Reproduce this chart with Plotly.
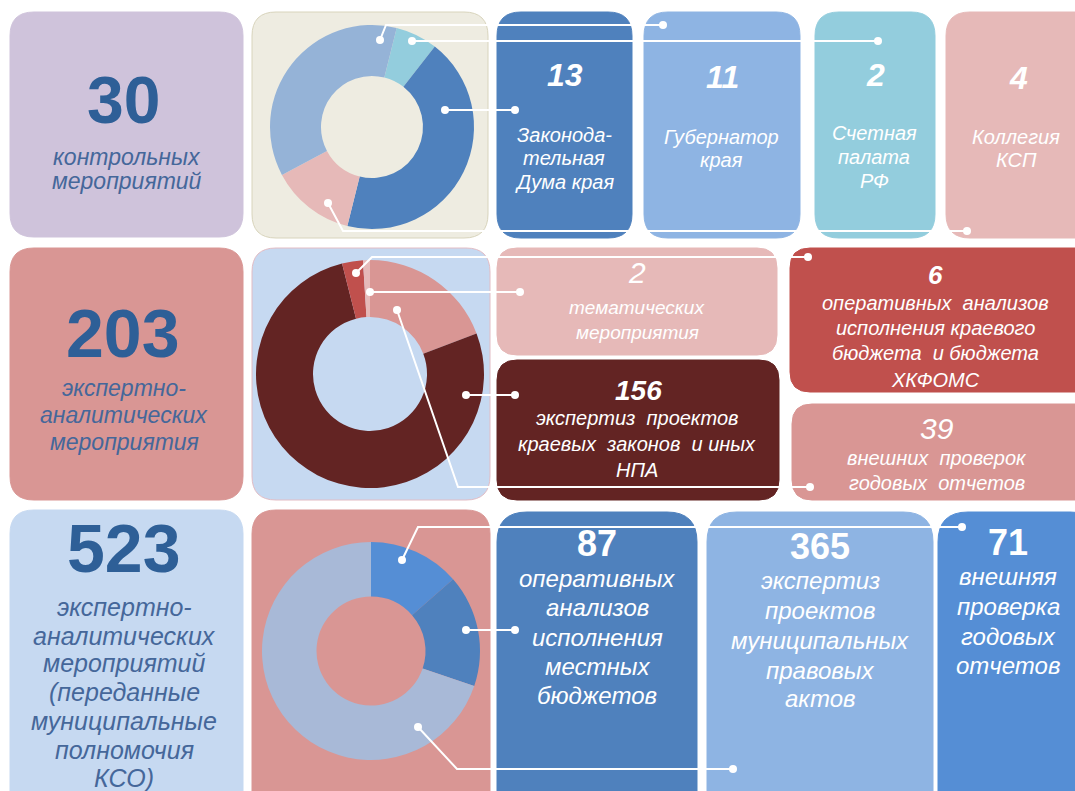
import plotly.graph_objects as go

# ---------------- data ----------------
row1_labels = ["Законодательная Дума края", "Губернатор края", "Счетная палата РФ", "Коллегия КСП"]
row1_values = [13, 11, 2, 4]
row1_total = 30
row1_pie_order = [2, 0, 3, 1]          # clockwise order of slices in the donut
row1_pie_colors = ["#4f81bd", "#95b3d7", "#93cddd", "#e6b9b8"]

row2_labels = ["тематических мероприятия", "экспертиз проектов краевых законов и иных НПА",
               "оперативных анализов исполнения краевого бюджета и бюджета ХКФОМС",
               "внешних проверок годовых отчетов"]
row2_values = [2, 156, 6, 39]
row2_total = 203
row2_pie_order = [3, 1, 2, 0]
row2_pie_colors = ["#e6b9b8", "#632423", "#c0504d", "#d99694"]

row3_labels = ["оперативных анализов исполнения местных бюджетов",
               "экспертиз проектов муниципальных правовых актов",
               "внешняя проверка годовых отчетов"]
row3_values = [87, 365, 71]
row3_total = 523
row3_pie_order = [2, 0, 1]
row3_pie_colors = ["#4f81bd", "#a8b9d7", "#558ed5"]

W, H = 1075, 791
BLUE_TXT = "#2e5f97"
SUB_TXT = "#45679a"
SANS = "Liberation Sans, Arial, sans-serif"
NARROW = "Liberation Sans Narrow, Arial Narrow, Liberation Sans, sans-serif"

fig = go.Figure()

# hidden pixel axes covering the whole canvas
fig.add_trace(go.Scatter(x=[0, W], y=[0, H], mode="markers", marker=dict(opacity=0),
                         hoverinfo="skip", showlegend=False))


def rrect(x0, y0, x1, y1, r=24):
    return (f"M {x0+r},{y0} L {x1-r},{y0} Q {x1},{y0} {x1},{y0+r} L {x1},{y1-r} "
            f"Q {x1},{y1} {x1-r},{y1} L {x0+r},{y1} Q {x0},{y1} {x0},{y1-r} "
            f"L {x0},{y0+r} Q {x0},{y0} {x0+r},{y0} Z")


shapes = []


def box(x0, y0, x1, y1, color, border=None, r=24):
    shapes.append(dict(type="path", path=rrect(x0, y0, x1, y1, r), xref="x", yref="y",
                       fillcolor=color, layer="below",
                       line=dict(color=border if border else color, width=1)))


# row 1
box(10, 12, 243, 237, "#cfc3db")
box(252, 12, 488, 238, "#eeece1", "#d8d4bc")
box(497, 12, 632, 238, "#4f81bd")
box(644, 12, 800, 238, "#8eb4e3")
box(815, 12, 935, 238, "#93cddd")
box(946, 12, 1100, 238, "#e6b9b8")
# row 2
box(10, 248, 243, 500, "#d99694")
box(252, 248, 490, 500, "#c6d9f1", "#e2bcc4")
box(497, 248, 777, 355, "#e6b9b8", r=20)
box(497, 360, 779, 500, "#632423", r=20)
box(790, 248, 1100, 392, "#c0504d", r=20)
box(792, 404, 1100, 500, "#d99694", r=20)
# row 3
box(10, 510, 243, 830, "#c6d9f1")
box(252, 510, 490, 830, "#d99694")
box(497, 512, 697, 830, "#4f81bd", r=30)
box(707, 512, 933, 830, "#8eb4e3", r=30)
box(938, 512, 1100, 830, "#558ed5", r=30)


# donuts
def donut(labels, values, colors, order, cx, cy, r, rotation):
    fig.add_trace(go.Pie(
        labels=[labels[i] for i in order], values=[values[i] for i in order],
        marker=dict(colors=[colors[i] for i in order], line=dict(width=0)),
        hole=0.5, sort=False, direction="clockwise", rotation=rotation,
        textinfo="none", hoverinfo="label+value", showlegend=False,
        domain=dict(x=[(cx - r) / W, (cx + r) / W],
                    y=[1 - (cy + r) / H, 1 - (cy - r) / H])))


donut(row1_labels, row1_values, row1_pie_colors, row1_pie_order, 372, 127, 102, 14)
donut(row2_labels, row2_values, row2_pie_colors, row2_pie_order, 370, 374, 114, 0)
donut(row3_labels, row3_values, row3_pie_colors, row3_pie_order, 371, 651, 109, 0)


# connectors
def connector(pts):
    path = "M " + " L ".join(f"{x},{y}" for x, y in pts)
    shapes.append(dict(type="path", path=path, xref="x", yref="y", layer="above",
                       line=dict(color="white", width=2)))
    for (x, y) in (pts[0], pts[-1]):
        shapes.append(dict(type="circle", xref="x", yref="y", layer="above",
                           x0=x - 4, x1=x + 4, y0=y - 4, y1=y + 4,
                           fillcolor="white", line=dict(color="white", width=0)))


connector([(380, 40), (386, 25), (663, 25)])
connector([(412, 41), (878, 41)])
connector([(445, 110), (515, 110)])
connector([(328, 203), (343, 231), (967, 231)])
connector([(356, 273), (372, 257), (808, 257)])
connector([(370, 292), (520, 292)])
connector([(397, 310), (458, 487), (810, 487)])
connector([(466, 395), (515, 395)])
connector([(402, 560), (418, 527), (962, 527)])
connector([(466, 630), (515, 630)])
connector([(418, 727), (457, 769), (733, 769)])

ann = []


def txt(x, y, s, size, color="white", bold=False, italic=True, family=SANS):
    ann.append(dict(x=x, y=y, xref="x", yref="y", text=s, showarrow=False,
                    xanchor="center", yanchor="middle",
                    font=dict(size=size, color=color, family=family,
                              weight="bold" if bold else "normal",
                              style="italic" if italic else "normal")))


def lines(x, ys, strs, size, color="white", family=SANS):
    for y, s in zip(ys, strs):
        txt(x, y, s, size, color, family=family)


# left column
txt(123, 100, str(row1_total), 66, BLUE_TXT, bold=True, italic=False)
lines(127, [157, 181], ["контрольных", "мероприятий"], 23, SUB_TXT)
txt(122, 333, str(row2_total), 68, BLUE_TXT, bold=True, italic=False)
lines(124, [388, 415, 442], ["экспертно-", "аналитических", "мероприятия"], 23, SUB_TXT)
txt(123, 548, str(row3_total), 68, BLUE_TXT, bold=True, italic=False)
lines(124, [607, 636, 663, 692, 721, 750, 778],
      ["экспертно-", "аналитических", "мероприятий", "(переданные", "муниципальные",
       "полномочия", "КСО)"], 25, SUB_TXT)

# row 1 boxes
txt(565, 75, str(row1_values[0]), 32, bold=True)
lines(564, [135, 158, 182], ["Законода-", "тельная", "Дума края"], 20)
txt(722, 77, str(row1_values[1]), 32, bold=True)
lines(721, [137, 160], ["Губернатор", "края"], 20)
txt(875, 75, str(row1_values[2]), 32, bold=True)
lines(874, [133, 157, 181], ["Счетная", "палата", "РФ"], 20)
txt(1018, 78, str(row1_values[3]), 32, bold=True)
lines(1016, [137, 160], ["Коллегия", "КСП"], 20)

# row 2 boxes
txt(637, 272, str(row2_values[0]), 30, italic=True, family=NARROW)
lines(637, [307, 332], ["тематических", "мероприятия"], 19)
txt(638, 390, str(row2_values[1]), 28, bold=True)
lines(637, [418, 444, 470], ["экспертиз  проектов", "краевых  законов  и иных", "НПА"], 20)
txt(935, 275, str(row2_values[2]), 26, bold=True)
lines(935, [303, 328, 353, 380], ["оперативных  анализов", "исполнения краевого",
                                  "бюджета  и бюджета", "ХКФОМС"], 20)
txt(937, 428, str(row2_values[3]), 30, italic=True, family=NARROW)
lines(937, [458, 483], ["внешних  проверок", "годовых  отчетов"], 20)

# row 3 boxes
txt(597, 543, str(row3_values[0]), 36, bold=True, italic=False, family=NARROW)
lines(597, [578, 607, 637, 666, 695],
      ["оперативных", "анализов", "исполнения", "местных", "бюджетов"], 24)
txt(820, 546, str(row3_values[1]), 36, bold=True, italic=False, family=NARROW)
lines(820, [580, 610, 640, 670, 698],
      ["экспертиз", "проектов", "муниципальных", "правовых", "актов"], 24)
txt(1008, 542, str(row3_values[2]), 36, bold=True, italic=False, family=NARROW)
lines(1008, [576, 606, 636, 665], ["внешняя", "проверка", "годовых", "отчетов"], 24)

fig.update_layout(
    width=W, height=H, margin=dict(l=0, r=0, t=0, b=0),
    paper_bgcolor="white", plot_bgcolor="white", showlegend=False,
    xaxis=dict(range=[0, W], visible=False, fixedrange=True, domain=[0, 1]),
    yaxis=dict(range=[H, 0], visible=False, fixedrange=True, domain=[0, 1]),
    shapes=shapes, annotations=ann,
)

fig.write_html("out.html", config={"displayModeBar": False},
               post_script="document.body.style.margin='0px';"
                           "document.body.style.overflow='hidden';")
